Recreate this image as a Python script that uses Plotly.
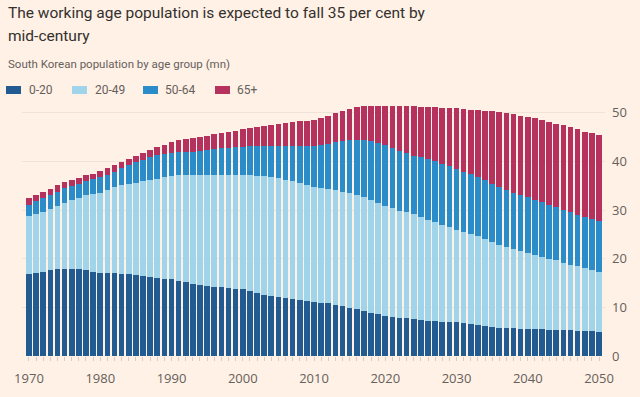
import plotly.graph_objects as go

years = list(range(1970, 2051))

age_0_20 = [16.8, 17.1, 17.3, 17.6, 17.8, 17.9, 17.9, 17.8, 17.6, 17.3,
            17.1, 17.0, 17.0, 16.9, 16.8, 16.6, 16.4, 16.2, 16.0, 15.9,
            15.8, 15.5, 15.2, 14.9, 14.6, 14.3, 14.2, 14.1, 14.0, 13.8,
            13.7, 13.3, 12.9, 12.6, 12.4, 12.2, 12.0, 11.7, 11.5, 11.3,
            11.1, 10.9, 10.8, 10.5, 10.2, 9.9, 9.6, 9.2, 8.9, 8.6,
            8.3, 8.1, 7.9, 7.8, 7.6, 7.4, 7.2, 7.1, 7.0, 6.9,
            6.9, 6.7, 6.5, 6.3, 6.2, 6.0, 5.8, 5.7, 5.7, 5.6,
            5.5, 5.5, 5.5, 5.4, 5.3, 5.3, 5.3, 5.2, 5.1, 5.1,
            5.0]

age_20_49 = [11.9, 12.1, 12.4, 12.7, 13.1, 13.6, 14.1, 14.7, 15.4, 15.9,
             16.4, 17.1, 17.7, 18.3, 18.6, 19.0, 19.5, 19.9, 20.4, 20.8,
             21.2, 21.6, 21.9, 22.3, 22.6, 22.9, 23.0, 23.1, 23.2, 23.4,
             23.5, 23.8, 24.1, 24.3, 24.3, 24.3, 24.2, 24.2, 24.0, 23.8,
             23.7, 23.7, 23.6, 23.6, 23.6, 23.6, 23.5, 23.4, 23.1, 22.9,
             22.6, 22.3, 22.0, 21.7, 21.6, 21.2, 20.8, 20.4, 20.0, 19.6,
             19.1, 18.8, 18.6, 18.3, 17.9, 17.5, 17.1, 16.7, 16.2, 15.9,
             15.7, 15.2, 14.8, 14.6, 14.4, 13.9, 13.5, 13.2, 12.9, 12.5,
             12.3]

age_50_64 = [2.4, 2.6, 2.7, 2.8, 2.9, 3.0, 2.9, 2.9, 2.9, 3.1,
             3.2, 3.2, 3.2, 3.4, 3.8, 4.2, 4.4, 4.7, 4.9, 4.9,
             4.8, 4.8, 4.8, 4.8, 5.0, 5.1, 5.3, 5.5, 5.6, 5.7,
             5.8, 6.0, 6.2, 6.3, 6.5, 6.7, 6.9, 7.2, 7.6, 8.0,
             8.3, 8.7, 9.2, 9.8, 10.3, 10.8, 11.3, 11.7, 12.1, 12.3,
             12.5, 12.4, 12.3, 12.2, 12.0, 12.2, 12.5, 12.5, 12.5, 12.5,
             12.5, 12.4, 12.3, 12.1, 12.0, 11.9, 11.8, 11.7, 11.6, 11.5,
             11.4, 11.4, 11.3, 11.1, 10.9, 10.9, 10.8, 10.6, 10.5, 10.5,
             10.4]

age_65_plus = [1.3, 1.2, 1.3, 1.3, 1.3, 1.2, 1.3, 1.2, 1.2, 1.2,
               1.3, 1.3, 1.3, 1.2, 1.3, 1.4, 1.5, 1.6, 1.6, 1.8,
               2.1, 2.4, 2.7, 2.9, 2.9, 3.0, 3.1, 3.1, 3.2, 3.4,
               3.6, 3.7, 3.9, 4.1, 4.3, 4.5, 4.8, 4.9, 5.1, 5.3,
               5.5, 5.7, 5.8, 6.0, 6.3, 6.5, 6.7, 7.0, 7.2, 7.5,
               7.9, 8.5, 9.1, 9.6, 10.1, 10.4, 10.7, 11.1, 11.5, 12.0,
               12.4, 12.8, 13.2, 13.8, 14.3, 14.9, 15.5, 15.8, 16.2, 16.4,
               16.6, 16.8, 16.9, 17.0, 17.1, 17.3, 17.4, 17.6, 17.6, 17.7,
               17.8]

series_names = ["0-20", "20-49", "50-64", "65+"]
series_values = [age_0_20, age_20_49, age_50_64, age_65_plus]
series_colors = ["#225a92", "#9fd4ea", "#2a8cc8", "#b5325f"]

x_tick_vals = [1970, 1980, 1990, 2000, 2010, 2020, 2030, 2040, 2050]
y_tick_vals = [0, 10, 20, 30, 40, 50]

title_lines = ["The working age population is expected to fall 35 per cent by",
               "mid-century"]
subtitle_text = "South Korean population by age group (mn)"

BG = "#fff1e5"
TEXTFONT = "Roboto"
TICKFONT = "Open Sans"

W, H = 640, 397
# plot area in screen pixels: x 22..605, y 103..356
SX0, SX1, SY0, SY1 = 22, 605, 103, 356
L, R, T, B = SX0, W - SX1, SY0, H - SY1
PW, PH = W - L - R, H - T - B


def px_x(p):
    return (p - L) / PW


def px_y(p):
    return (H - B - p) / PH


fig = go.Figure()
for name, vals, col in zip(series_names, series_values, series_colors):
    fig.add_trace(go.Bar(x=years, y=vals, name=name, showlegend=False,
                         marker=dict(color=col, line=dict(width=0))))

fig.update_layout(
    barmode="stack",
    bargap=0.22,
    width=W, height=H,
    paper_bgcolor=BG, plot_bgcolor=BG,
    margin=dict(l=L, r=R, t=T, b=B, autoexpand=False),
    font=dict(family=TICKFONT, color="#66605c"),
    showlegend=False,
    xaxis=dict(range=[1969.02, 2050.84], tickvals=x_tick_vals, ticks="",
               showgrid=False, zeroline=False, showline=False, automargin=False,
               tickfont=dict(size=13, color="#66605c"), ticklabelstandoff=13,
               minor=dict(dtick=1, tick0=1970, ticks="outside", ticklen=4,
                          tickcolor="#d8cbbf", showgrid=False)),
    yaxis=dict(range=[0, 52], tickvals=y_tick_vals, side="right",
               showgrid=True, gridcolor="#efe2d6", gridwidth=1,
               zeroline=False, showline=False, ticks="", automargin=False,
               ticklabelstandoff=6,
               tickfont=dict(size=13, color="#66605c")),
)

for line, yc in zip(title_lines, [13, 36]):
    fig.add_annotation(text=line, xref="paper", yref="paper", x=px_x(6), y=px_y(yc),
                       xanchor="left", yanchor="middle", showarrow=False, align="left",
                       font=dict(size=15.5, color="#33302e", family=TEXTFONT))
fig.add_annotation(text=subtitle_text, xref="paper", yref="paper", x=px_x(6), y=px_y(64),
                   xanchor="left", yanchor="middle", showarrow=False, align="left",
                   font=dict(size=11.5, color="#66605c", family=TEXTFONT))

# manual legend (layout positions in screen pixels)
legend_sq_x = [6, 72, 143, 215]
legend_txt_x = [27, 93, 163, 235]
for name, col, sx, tx in zip(series_names, series_colors, legend_sq_x, legend_txt_x):
    fig.add_shape(type="rect", xref="paper", yref="paper",
                  x0=px_x(sx), x1=px_x(sx + 15), y0=px_y(94), y1=px_y(86),
                  fillcolor=col, line=dict(width=0))
    fig.add_annotation(text=name, xref="paper", yref="paper", x=px_x(tx), y=px_y(90),
                       xanchor="left", yanchor="middle", showarrow=False,
                       font=dict(size=12, color="#66605c", family=TEXTFONT))

fig.write_html("out.html",
               config={"displayModeBar": False},
               post_script="document.body.style.margin='0';document.body.style.background='#fff1e5';")
